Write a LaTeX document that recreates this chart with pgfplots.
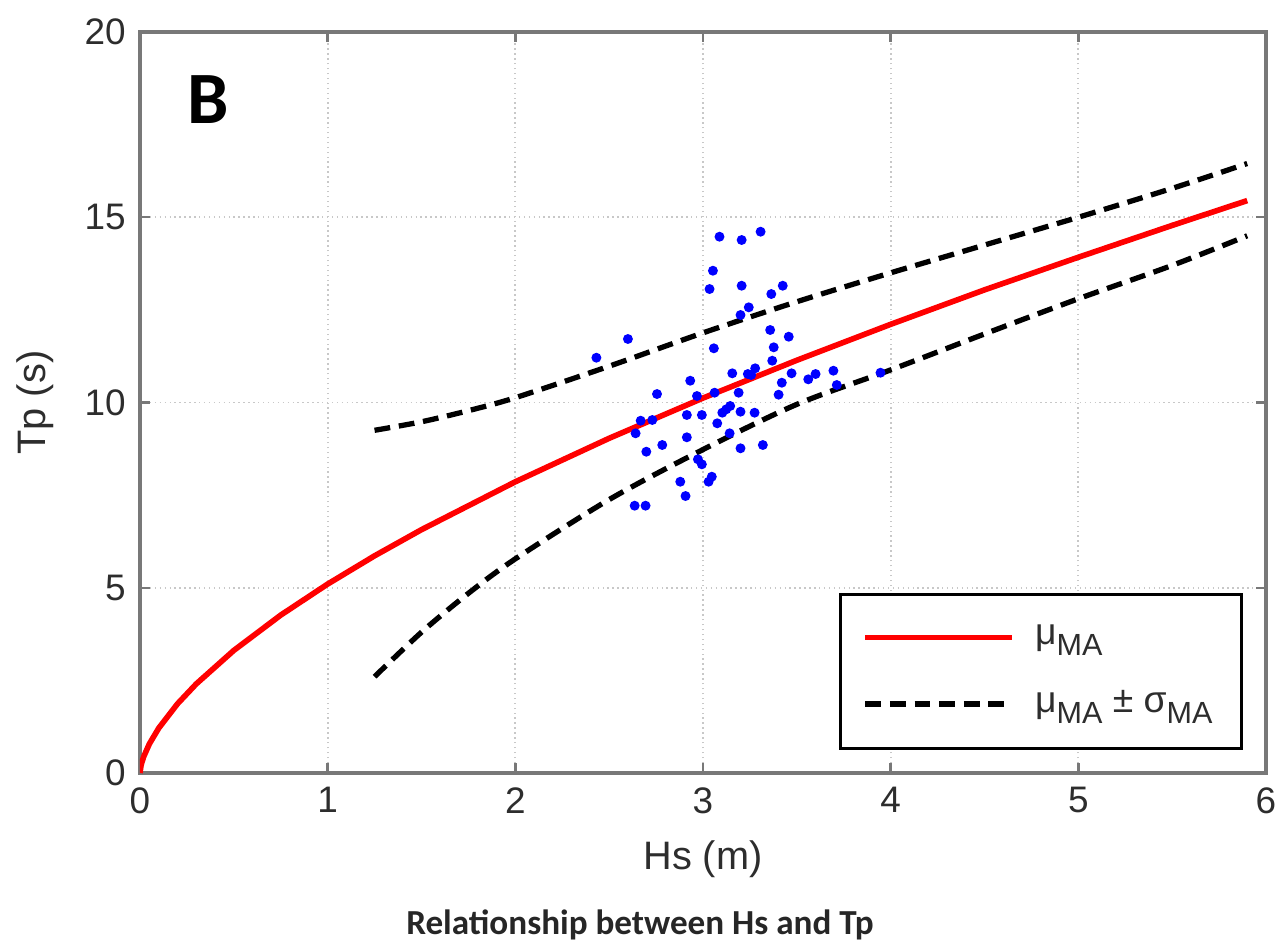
\documentclass[border=0pt]{standalone}
\usepackage{pgfplots}
\pgfplotsset{compat=1.18}
\usepackage{fontspec}
\setmainfont{Liberation Sans}
\newfontfamily\capfont{Carlito}

\definecolor{axgray}{RGB}{120,120,120}
\definecolor{txtgray}{RGB}{45,45,45}
\definecolor{gridgray}{RGB}{200,200,200}

% lowered subscript as used in the legend
\newcommand{\sub}[1]{\raisebox{-0.55ex}{\fontsize{8.7}{10}\selectfont #1}}

% mean curve of Tp against Hs
\pgfplotstableread{
x y
0 0
0.005 0.187
0.01 0.288
0.02 0.444
0.05 0.787
0.1 1.212
0.2 1.869
0.3 2.406
0.5 3.309
0.75 4.262
1 5.10
1.25 5.862
1.5 6.568
2 7.86
2.5 9.034
3 10.12
3.5 11.14
4 12.11
4.5 13.04
5 13.92
5.5 14.78
5.9 15.45
}\meancurve

% mean plus one standard deviation
\pgfplotstableread{
x y
1.25 9.25
1.5 9.48
1.75 9.78
2 10.13
2.5 10.98
3 11.88
3.5 12.72
4 13.5
4.5 14.25
5 15.0
5.5 15.78
5.9 16.45
}\uppercurve

% mean minus one standard deviation
\pgfplotstableread{
x y
1.25 2.6
1.5 3.8
1.75 4.85
2 5.78
2.5 7.38
3 8.73
3.5 9.95
4 10.88
4.5 11.85
5 12.8
5.5 13.7
5.9 14.5
}\lowercurve

% observed sea states
\pgfplotstableread{
x y
3.088 14.475
3.206 14.386
3.307 14.61
3.053 13.557
3.035 13.063
3.206 13.152
3.364 12.928
3.425 13.152
3.244 12.569
3.200 12.362
2.600 11.714
2.432 11.209
3.358 11.957
3.457 11.776
3.058 11.463
3.377 11.490
3.369 11.128
3.278 10.923
3.239 10.769
3.257 10.742
3.156 10.788
3.472 10.788
3.561 10.626
3.600 10.769
3.695 10.858
3.713 10.472
3.946 10.804
3.420 10.534
2.932 10.588
3.403 10.211
3.190 10.265
3.062 10.265
2.968 10.175
2.755 10.229
2.668 9.509
2.730 9.528
2.641 9.169
2.914 9.663
2.994 9.663
3.103 9.725
3.124 9.816
3.145 9.906
3.200 9.752
3.275 9.725
3.076 9.439
3.142 9.169
2.914 9.061
2.783 8.853
2.698 8.672
3.200 8.764
3.319 8.853
2.973 8.467
2.994 8.332
2.879 7.862
3.047 7.997
3.030 7.862
2.907 7.476
2.636 7.215
2.694 7.215
}\observed

\begin{document}
\begin{tikzpicture}
\path[use as bounding box] (-1.40,-1.76) rectangle (11.44,7.73);
\begin{axis}[
  scale only axis,
  width=11.26cm, height=7.41cm,
  xmin=0, xmax=6, ymin=0, ymax=20,
  xtick={0,1,...,6}, ytick={0,5,10,15,20},
  grid=major,
  major grid style={gridgray, densely dotted, line width=0.5pt},
  axis line style={axgray, line width=0.9pt},
  tick style={axgray, line width=0.7pt},
  tick align=inside,
  major tick length=0.1cm,
  ticklabel style={font=\fontsize{10.5}{12}\selectfont, text=txtgray},
  /pgf/number format/assume math mode=true,
  xticklabel style={yshift=-0.02cm},
  yticklabel style={xshift=-0.02cm},
  xlabel={Hs (m)},
  ylabel={Tp (s)},
  label style={font=\fontsize{11.3}{13}\selectfont, text=txtgray},
  xlabel style={at={(rel axis cs:0.5,0)}, anchor=north, yshift=-0.55cm},
  ylabel style={at={(rel axis cs:-0.093,0.5)}, anchor=center},
  legend style={at={(rel axis cs:0.9796,0.031)}, anchor=south east,
    draw=black, line width=0.8pt, fill=white,
    font=\fontsize{10.6}{13}\selectfont, text=txtgray,
    row sep=0.26cm, inner xsep=0.22cm, inner ysep=0.24cm},
  legend cell align=left,
  legend image code/.code={\draw[#1] (0cm,0cm) -- (1.47cm,0cm);
    \path (1.60cm,0cm);},
]
\addplot[only marks, mark=*, mark size=1.2pt, color=blue, forget plot]
  table[x=x, y=y] {\observed};
\addplot[red, line width=1.6pt] table[x=x, y=y] {\meancurve};
\addlegendentry{μ\sub{MA}}
\addplot[black, line width=1.5pt, dash pattern=on 4.5pt off 2.5pt, smooth]
  table[x=x, y=y] {\uppercurve};
\addlegendentry{μ\sub{MA} ± σ\sub{MA}}
\addplot[black, line width=1.5pt, dash pattern=on 4.5pt off 2.5pt, smooth, forget plot]
  table[x=x, y=y] {\lowercurve};
\end{axis}
\node[font=\capfont\bfseries\fontsize{21}{24}\selectfont] at (0.68,6.73) {B};
\node[font=\capfont\bfseries\fontsize{10}{12}\selectfont, text=black!85] at (5.00,-1.52) {Relationship between Hs and Tp};
\end{tikzpicture}
\end{document}
